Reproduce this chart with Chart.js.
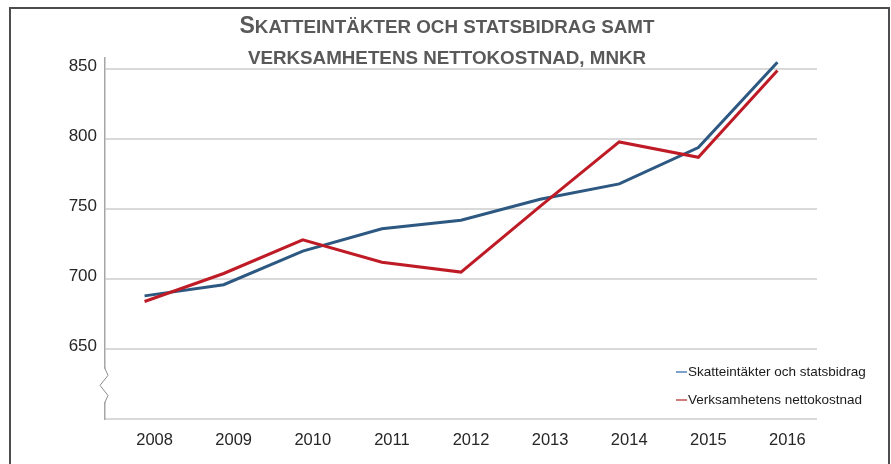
<!DOCTYPE html>
<html>
<head>
<meta charset="utf-8">
<script src="https://cdn.jsdelivr.net/npm/chart.js@4.4.1/dist/chart.umd.min.js"></script>
<style>
  html, body { margin: 0; padding: 0; background: #fff; }
  #wrap { position: relative; width: 891px; height: 464px; }
</style>
</head>
<body>
<div id="wrap"><canvas id="chart" width="891" height="464"></canvas></div>
<script>
// data (mnkr)
const years = ['2008', '2009', '2010', '2011', '2012', '2013', '2014', '2015', '2016']
const skatteintakter = [688, 696, 720, 736, 742, 757, 768, 794, 855]
const nettokostnad = [684, 704, 728, 712, 705, 752, 798, 787, 849]
const yTicks = [600, 650, 700, 750, 800, 850]

const seriesNames = ['Skatteintäkter och statsbidrag', 'Verksamhetens nettokostnad']
const titleLines = ['Skatteintäkter och statsbidrag samt', 'verksamhetens nettokostnad, mnkr']

const colorBlue = '#2c5882'
const colorRed = '#bf1b26'
const legendColors = ['#4f81bd', '#c0504d']
const fontFamily = "'Liberation Sans', Arial, sans-serif"

// white bg + the dark frame round the whole figure
const framePlugin = {
  id: 'frame',
  beforeDraw: (chart) => {
    const {ctx} = chart
    ctx.save()
    ctx.fillStyle = '#fff'
    ctx.fillRect(0, 0, chart.width, chart.height)
    ctx.strokeStyle = '#4d4d4d'
    ctx.lineWidth = 2
    ctx.strokeRect(10, 8, 879, 470)
    ctx.restore()
  }
}

// title in small caps, first letter full size
const titlePlugin = {
  id: 'smallCapsTitle',
  afterDraw: (chart) => {
    const {ctx} = chart
    const cx = 447
    const big = 'bold 23px ' + fontFamily
    const small = 'bold 18.8px ' + fontFamily
    ctx.save()
    ctx.fillStyle = '#595959'
    ctx.textBaseline = 'alphabetic'
    ctx.textAlign = 'left'
    titleLines.forEach((line, i) => {
      const y = 33 + i * 31
      let first = ''
      let rest = line.toUpperCase()
      if (line[0] === line[0].toUpperCase()) { // capital letter stays big
        first = line[0]
        rest = line.slice(1).toUpperCase()
      }
      ctx.font = big
      const w1 = first ? ctx.measureText(first).width : 0
      ctx.font = small
      const w2 = ctx.measureText(rest).width
      let x = cx - (w1 + w2) / 2
      if (first) {
        ctx.font = big
        ctx.fillText(first, x, y)
        x += w1
      }
      ctx.font = small
      ctx.fillText(rest, x, y)
    })
    ctx.restore()
  }
}

// axis break zigzag between 600 and 650
const breakPlugin = {
  id: 'axisBreak',
  afterDraw: (chart) => {
    const {ctx} = chart
    const y = chart.scales.y
    const x0 = chart.chartArea.left
    const top = y.getPixelForValue(636)
    const bot = y.getPixelForValue(612)
    const h = bot - top
    ctx.save()
    ctx.strokeStyle = '#fff'
    ctx.lineWidth = 4
    ctx.beginPath()
    ctx.moveTo(x0, top)
    ctx.lineTo(x0, bot)
    ctx.stroke()
    ctx.strokeStyle = '#8c8c8c'
    ctx.lineWidth = 1
    ctx.beginPath()
    ctx.moveTo(x0, top - 1)
    ctx.lineTo(x0, top)
    ctx.lineTo(x0 + 3, top + h * 0.2)
    ctx.lineTo(x0 - 5, top + h * 0.5)
    ctx.lineTo(x0 + 3, top + h * 0.8)
    ctx.lineTo(x0, bot)
    ctx.lineTo(x0, bot + 1)
    ctx.stroke()
    ctx.restore()
  }
}

// legend inside the plot, bottom right
const legendPlugin = {
  id: 'cornerLegend',
  afterDraw: (chart) => {
    const {ctx, chartArea} = chart
    const x = chartArea.right - 141
    ctx.save()
    ctx.font = '13.5px ' + fontFamily
    ctx.textBaseline = 'middle'
    ctx.textAlign = 'left'
    seriesNames.forEach((name, i) => {
      const y = chartArea.bottom - 47 + i * 28
      ctx.strokeStyle = legendColors[i]
      ctx.lineWidth = 1.5
      ctx.beginPath()
      ctx.moveTo(x, y)
      ctx.lineTo(x + 11, y)
      ctx.stroke()
      ctx.fillStyle = '#1a1a1a'
      ctx.fillText(name, x + 12, y)
    })
    ctx.restore()
  }
}

const config = {
  type: 'line',
  data: {
    labels: years,
    datasets: [{
      label: seriesNames[0],
      data: skatteintakter,
      borderColor: colorBlue,
      borderWidth: 3,
      pointRadius: 0,
      tension: 0,
      clip: false,
      order: 1
    }, {
      label: seriesNames[1],
      data: nettokostnad,
      borderColor: colorRed,
      borderWidth: 3,
      pointRadius: 0,
      tension: 0,
      clip: false,
      order: 0
    }]
  },
  options: {
    responsive: false,
    animation: false,
    layout: { padding: { left: 0, right: 74, top: 58, bottom: 0 } },
    plugins: {
      legend: { display: false },
      title: { display: false },
      tooltip: { enabled: false }
    },
    scales: {
      x: {
        offset: true,
        afterFit: (scale) => { scale.height = 45 },
        grid: { display: false, drawTicks: false },
        border: { display: false },
        ticks: {
          color: '#262626',
          font: { family: fontFamily, size: 16.5 },
          padding: 12,
          labelOffset: 10,
          maxRotation: 0
        }
      },
      y: {
        min: 600,
        max: 858,
        afterFit: (scale) => { scale.width = 105 },
        afterBuildTicks: (scale) => { scale.ticks = yTicks.map(v => ({ value: v })) },
        grid: { color: '#d9d9d9', lineWidth: 2, drawTicks: false },
        border: { display: true, color: '#a6a6a6', width: 1.5 },
        ticks: {
          color: '#262626',
          font: { family: fontFamily, size: 17 },
          padding: 8,
          labelOffset: -3,
          callback: (v) => (v === 600 ? '' : v)
        }
      }
    }
  },
  plugins: [framePlugin, titlePlugin, breakPlugin, legendPlugin]
}

const chart = new Chart(document.getElementById('chart'), config)
</script>
</body>
</html>
